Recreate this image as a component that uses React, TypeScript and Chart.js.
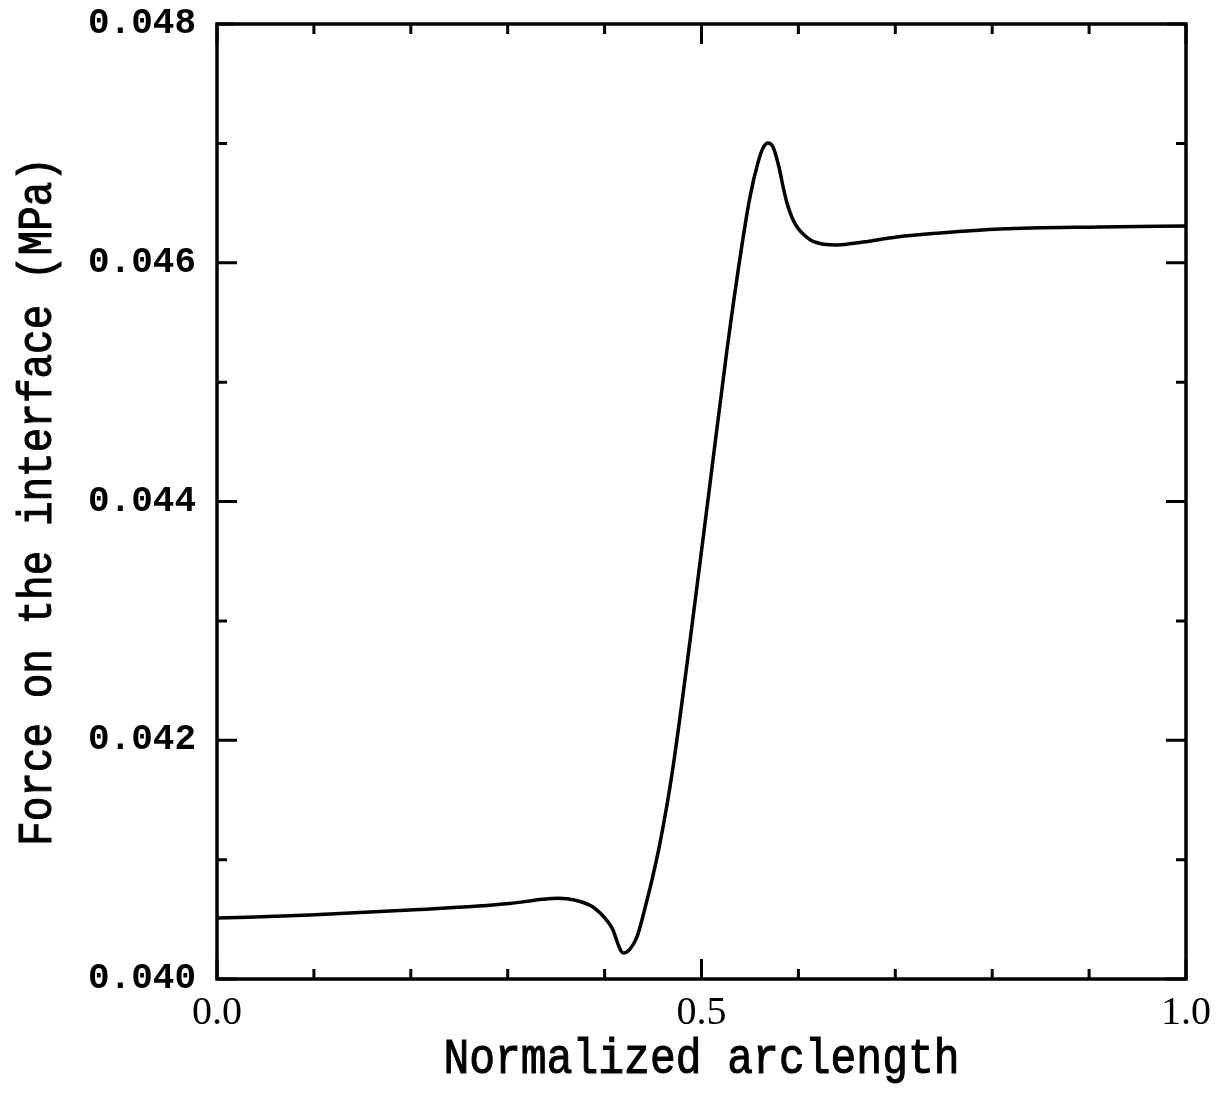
import React, { useEffect, useRef } from "react";
import { Chart, registerables } from "chart.js";

Chart.register(...registerables);

// Normalized arclength along the interface
const arcLength = [
  0.0, 0.096, 0.199, 0.302, 0.336, 0.352, 0.37, 0.388, 0.4035, 0.4087,
  0.4139, 0.419, 0.4262, 0.4334, 0.4438, 0.4489, 0.4572, 0.4696, 0.4881,
  0.5088, 0.5263, 0.5418, 0.55, 0.5583, 0.5635, 0.5686, 0.5738, 0.58, 0.5841,
  0.5882, 0.5934, 0.5986, 0.6068, 0.6151, 0.6398, 0.6667, 0.7017, 0.7461,
  0.808, 0.911, 1.0,
];

// Force on the interface (MPa)
const force = [
  0.04051, 0.040536, 0.040578, 0.040632, 0.040668, 0.040677, 0.04066, 0.040603,
  0.040478, 0.04041, 0.04029, 0.040218, 0.040251, 0.040352, 0.040662, 0.04083,
  0.04114, 0.04172, 0.04283, 0.04415, 0.04527, 0.04615, 0.04655, 0.04684,
  0.046961, 0.047003, 0.04697, 0.0468, 0.04664, 0.0465, 0.046379, 0.0463,
  0.046226, 0.04618, 0.046149, 0.046174, 0.046216, 0.046249, 0.046283, 0.0463,
  0.046308,
];

// Axis ticks
const xMajorTicks = [0.0, 0.5, 1.0];
const xMinorTicks = [0.1, 0.2, 0.3, 0.4, 0.6, 0.7, 0.8, 0.9];
const yMajorTicks = [0.04, 0.042, 0.044, 0.046, 0.048];
const yMinorTicks = [0.041, 0.043, 0.045, 0.047];

const xTitle = "Normalized arclength";
const yTitle = "Force on the interface (MPa)";

const titleStretch = 1.18;

// Frame around the plot area with inward tick marks on all four sides
const framePlugin = {
  id: "frameTicks",
  afterDraw(chart: any) {
    const { ctx, chartArea } = chart;
    const { left, right, top, bottom } = chartArea;
    const xs = chart.scales.x;
    const ys = chart.scales.y;
    const major = 20;
    const minor = 10;
    ctx.save();
    ctx.strokeStyle = "#000";
    ctx.lineWidth = 3;
    ctx.lineCap = "butt";
    ctx.beginPath();
    const xTick = (v: number, len: number) => {
      const px = xs.getPixelForValue(v);
      ctx.moveTo(px, bottom);
      ctx.lineTo(px, bottom - len);
      ctx.moveTo(px, top);
      ctx.lineTo(px, top + len);
    };
    const yTick = (v: number, len: number) => {
      const py = ys.getPixelForValue(v);
      ctx.moveTo(left, py);
      ctx.lineTo(left + len, py);
      ctx.moveTo(right, py);
      ctx.lineTo(right - len, py);
    };
    xMajorTicks.forEach((v) => xTick(v, major));
    xMinorTicks.forEach((v) => xTick(v, minor));
    yMajorTicks.forEach((v) => yTick(v, major));
    yMinorTicks.forEach((v) => yTick(v, minor));
    ctx.stroke();
    ctx.lineWidth = 3.5;
    ctx.strokeRect(left, top, right - left, bottom - top);
    ctx.restore();
  },
};

// Typewriter-style axis titles, slightly stretched in height
const titlesPlugin = {
  id: "axisTitles",
  afterDraw(chart: any) {
    const { ctx, chartArea } = chart;
    const cx = (chartArea.left + chartArea.right) / 2;
    const cy = (chartArea.top + chartArea.bottom) / 2;
    ctx.save();
    ctx.fillStyle = "#000";
    ctx.strokeStyle = "#000";
    ctx.lineWidth = 0.9;
    ctx.textAlign = "center";
    ctx.textBaseline = "alphabetic";

    ctx.save();
    ctx.translate(cx, 1073);
    ctx.scale(1, titleStretch);
    ctx.font = "43px 'Liberation Mono'";
    ctx.fillText(xTitle, 0, 0);
    ctx.strokeText(xTitle, 0, 0);
    ctx.restore();

    ctx.save();
    ctx.translate(51, cy);
    ctx.rotate(-Math.PI / 2);
    ctx.scale(1, titleStretch);
    ctx.font = "41px 'Liberation Mono'";
    ctx.fillText(yTitle, 0, 0);
    ctx.strokeText(yTitle, 0, 0);
    ctx.restore();

    ctx.restore();
  },
};

export default function App() {
  const canvasRef = useRef<HTMLCanvasElement | null>(null);

  useEffect(() => {
    document.body.style.margin = "0";
    document.body.style.background = "#fff";
    const canvas = canvasRef.current;
    if (!canvas) return;
    const chart = new Chart(canvas, {
      type: "line",
      data: {
        datasets: [
          {
            data: arcLength.map((x, i) => ({ x, y: force[i] })),
            borderColor: "#000",
            borderWidth: 3.5,
            pointRadius: 0,
            cubicInterpolationMode: "monotone",
            fill: false,
          },
        ],
      },
      options: {
        responsive: false,
        animation: false,
        events: [],
        layout: { padding: { top: 24, right: 36, left: 0, bottom: 0 } },
        plugins: {
          legend: { display: false },
          tooltip: { enabled: false },
        },
        scales: {
          x: {
            type: "linear",
            min: 0,
            max: 1,
            afterFit: (s: any) => {
              s.height = 137;
              s.paddingLeft = 0;
              s.paddingRight = 0;
            },
            afterBuildTicks: (s: any) => {
              s.ticks = xMajorTicks.map((value) => ({ value }));
            },
            grid: { display: false, drawTicks: false },
            border: { display: false },
            ticks: {
              padding: 10,
              color: "#000",
              maxRotation: 0,
              font: { family: "Liberation Serif", size: 40 },
              callback: (v: any) => Number(v).toFixed(1),
            },
          },
          y: {
            type: "linear",
            min: 0.04,
            max: 0.048,
            afterFit: (s: any) => {
              s.width = 217;
              s.paddingTop = 0;
              s.paddingBottom = 0;
            },
            afterBuildTicks: (s: any) => {
              s.ticks = yMajorTicks.map((value) => ({ value }));
            },
            grid: { display: false, drawTicks: false },
            border: { display: false },
            ticks: {
              padding: 21,
              color: "#000",
              font: { family: "Liberation Mono", size: 36, weight: "bold" },
              callback: (v: any) => Number(v).toFixed(3),
            },
          },
        },
      },
      plugins: [framePlugin, titlesPlugin],
    });
    return () => chart.destroy();
  }, []);

  return <canvas ref={canvasRef} width={1222} height={1116} style={{ display: "block" }} />;
}
